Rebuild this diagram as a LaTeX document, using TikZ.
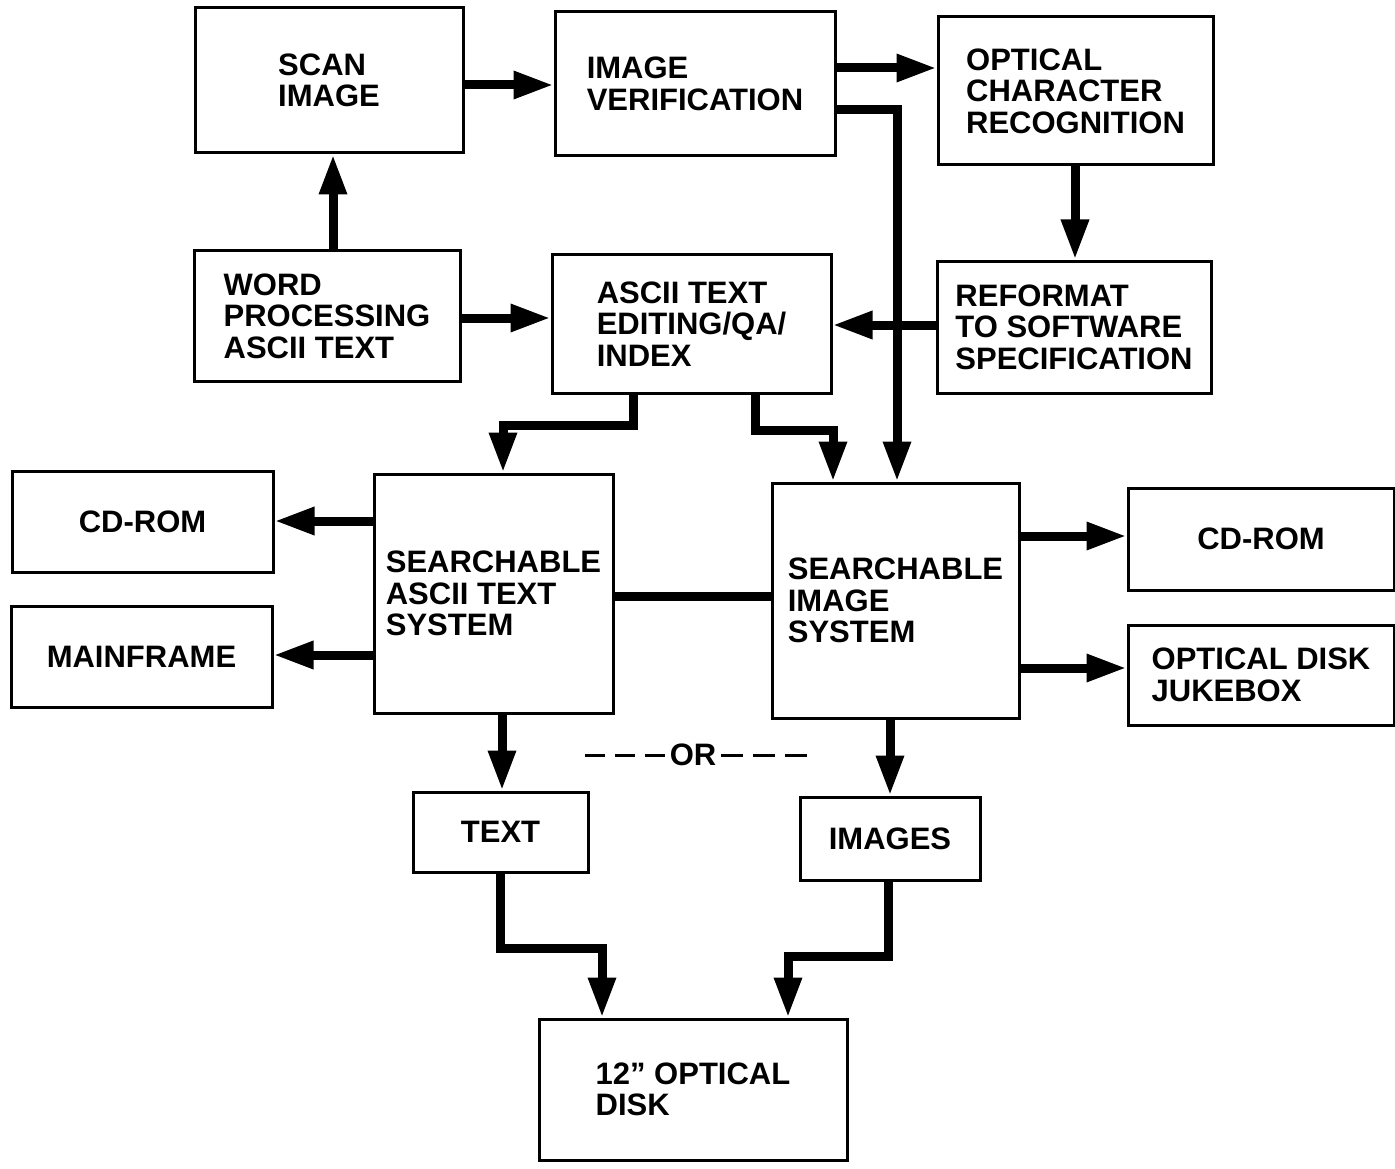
\documentclass[tikz,border=0pt]{standalone}
\usepackage{fontspec}
\setmainfont{Liberation Sans}
\usetikzlibrary{arrows.meta}
\begin{document}
\begin{tikzpicture}[x=1pt,y=-1pt,
  box/.style={draw, line width=3pt, align=left, inner sep=0pt,
    font=\bfseries\fontsize{31}{31.5}\selectfont},
  arr/.style={line width=9pt, line join=miter, -{Triangle[length=40pt,width=26pt]}},
  link/.style={line width=9pt, line join=miter},
  orlabel/.style={font=\bfseries\fontsize{31}{31}\selectfont, inner sep=5pt},
  ordash/.style={line width=3pt}
]
\useasboundingbox (0,0) rectangle (1395,1169);

% boxes
\node[box, minimum width=268pt, minimum height=145pt] (scan) at (329,80.5) {SCAN\\IMAGE};
\node[box, minimum width=280pt, minimum height=144pt] (verif) at (695,84) {IMAGE\\VERIFICATION};
\node[box, minimum width=275pt, minimum height=148pt] (ocr) at (1075.5,91) {OPTICAL\\CHARACTER\\RECOGNITION};
\node[box, minimum width=266pt, minimum height=130pt] (wp) at (327,316) {WORD\\PROCESSING\\ASCII TEXT};
\node[box, minimum width=279pt, minimum height=138pt] (edit) at (691.5,324) {ASCII TEXT\\EDITING/QA/\\INDEX};
\node[box, minimum width=274pt, minimum height=132pt] (reformat) at (1074,327) {REFORMAT\\TO SOFTWARE\\SPECIFICATION};
\node[box, minimum width=261pt, minimum height=101pt] (cdl) at (142.5,521.5) {CD-ROM};
\node[box, minimum width=261pt, minimum height=101pt] (main) at (141.5,656.5) {MAINFRAME};
\node[box, minimum width=239pt, minimum height=239pt] (sat) at (493.5,593.5) {SEARCHABLE\\ASCII TEXT\\SYSTEM};
\node[box, minimum width=247pt, minimum height=235pt] (sis) at (895.5,600.5) {SEARCHABLE\\IMAGE\\SYSTEM};
\node[box, minimum width=266pt, minimum height=102pt] (cdr) at (1261,539) {CD-ROM};
\node[box, minimum width=266pt, minimum height=100pt] (juke) at (1261,675) {OPTICAL DISK\\JUKEBOX};
\node[box, minimum width=175pt, minimum height=80pt] (text) at (500.5,832) {TEXT};
\node[box, minimum width=180pt, minimum height=83pt] (images) at (890,838.5) {IMAGES};
\node[box, minimum width=308pt, minimum height=141pt] (disk) at (693,1089.5) {12'' OPTICAL\\DISK};

% OR label
\node[orlabel] (or) at (693,755) {OR};
\draw[ordash, dash pattern=on 20pt off 10pt] (or.west) -- ++(-80,0);
\draw[ordash, dash pattern=on 22pt off 10pt] (or.east) -- ++(86,0);

% connectors
\draw[arr] (scan.east |- 0,85) -- (verif.west |- 0,85);
\draw[arr] (wp.north -| 333,0) -- (scan.south -| 333,0);
\draw[arr] (wp.east |- 0,318) -- (edit.west |- 0,318);
\draw[arr] (verif.east |- 0,68) -- (ocr.west |- 0,68);
\draw[arr] (verif.east |- 0,110) -| (sis.north -| 897,0);
\draw[arr] (ocr.south -| 1075,0) -- (reformat.north -| 1075,0);
\draw[arr] (reformat.west |- 0,325) -- (edit.east |- 0,325);
\draw[arr] (edit.south -| 633,0) -- (633,425) -| (sat.north -| 503,0);
\draw[arr] (edit.south -| 755,0) -- (755,430) -| (sis.north -| 833,0);
\draw[arr] (sat.west |- 0,521) -- (cdl.east |- 0,521);
\draw[arr] (sat.west |- 0,655) -- (main.east |- 0,655);
\draw[link] (sat.east |- 0,596) -- (sis.west |- 0,596);
\draw[arr] (sis.east |- 0,536) -- (cdr.west |- 0,536);
\draw[arr] (sis.east |- 0,668) -- (juke.west |- 0,668);
\draw[arr] (sat.south -| 502,0) -- (text.north -| 502,0);
\draw[arr] (sis.south -| 890,0) -- (images.north -| 890,0);
\draw[arr] (text.south -| 500,0) -- (500,948) -| (disk.north -| 602,0);
\draw[arr] (images.south -| 888,0) -- (888,956) -| (disk.north -| 788,0);
\end{tikzpicture}
\end{document}
